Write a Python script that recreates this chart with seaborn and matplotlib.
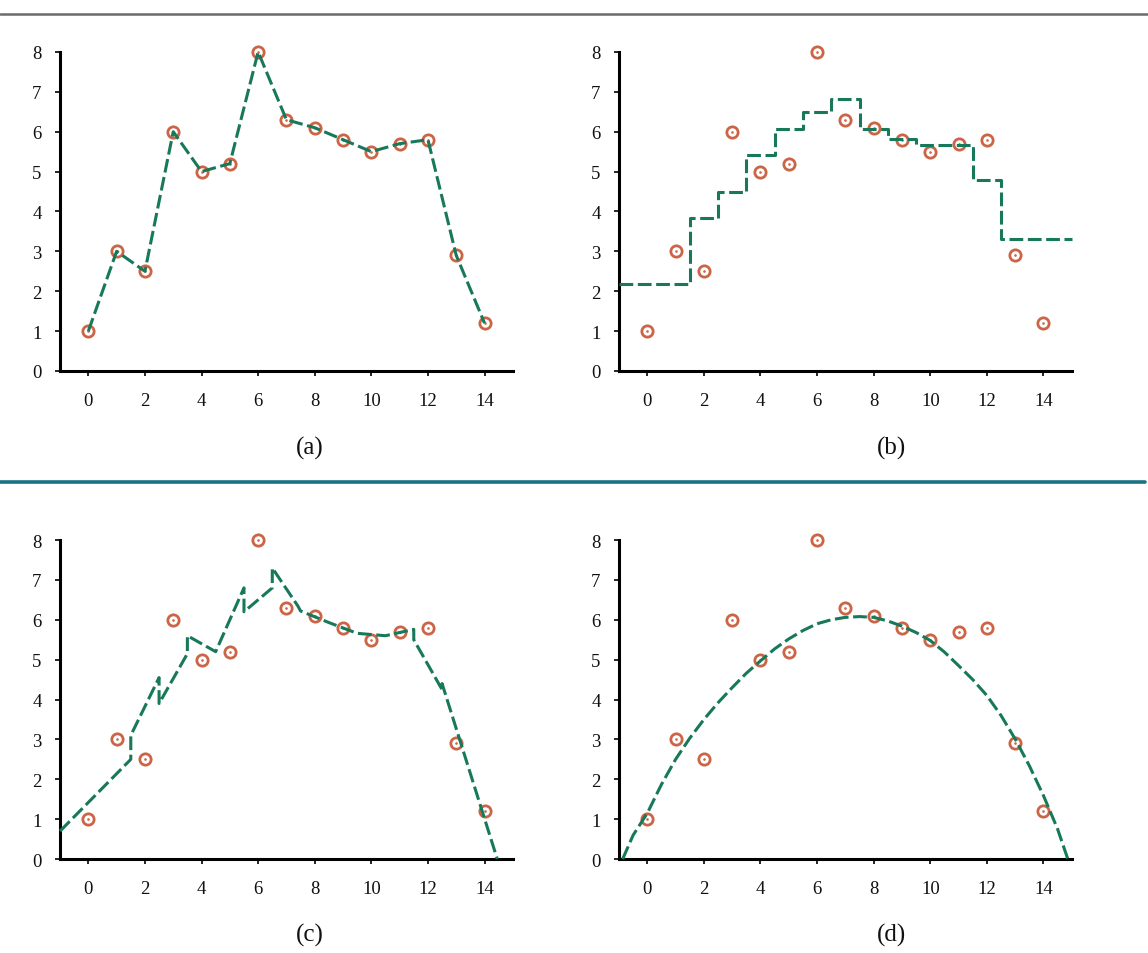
import matplotlib
matplotlib.use("Agg")
import matplotlib.pyplot as plt
from matplotlib.lines import Line2D
import seaborn as sns

# observed points (same in all four panels)
pts_x = [0, 1, 2, 3, 4, 5, 6, 7, 8, 9, 10, 11, 12, 13, 14]
pts_y = [1, 3, 2.5, 6, 5, 5.2, 8, 6.3, 6.1, 5.8, 5.5, 5.7, 5.8, 2.9, 1.2]

# (b) piecewise constant fit
step_edges = [-1, 1.5, 2.5, 3.5, 4.5, 5.5, 6.5, 7.5, 8.5, 9.5, 11.5, 12.5, 15]
step_levels = [2.17, 3.83, 4.5, 5.42, 6.07, 6.5, 6.82, 6.07, 5.82, 5.67, 4.8, 3.31]

# (c) piecewise linear fit (repeated x = jump)
pw_x = [-1, 1.5, 1.5, 2.5, 2.5, 3.5, 3.5, 4.5, 5.5, 5.5, 6.5, 6.5, 7.4, 7.5,
        8.5, 9.5, 10.5, 11.5, 11.5, 12.5, 12.5, 14.45]
pw_y = [0.7, 2.5, 3.1, 4.55, 3.9, 5.15, 5.6, 5.2, 6.8, 6.2, 6.8, 7.3, 6.35, 6.22,
        5.93, 5.66, 5.6, 5.76, 5.5, 4.25, 4.4, 0.0]

# (d) smooth fit
smooth_x = [-0.87, -0.5, 0, 0.5, 1, 1.5, 2, 2.5, 3, 3.5, 4, 4.5, 5, 5.5, 6, 6.5,
            7, 7.5, 8, 8.5, 9, 9.5, 10, 10.5, 11, 11.5, 12, 12.5, 13, 13.5, 14,
            14.5, 14.86]
smooth_y = [0, 0.6, 1.15, 1.87, 2.5, 3.03, 3.5, 3.92, 4.3, 4.66, 4.97, 5.27,
            5.52, 5.73, 5.9, 6.0, 6.06, 6.08, 6.06, 5.97, 5.84, 5.68, 5.48,
            5.19, 4.85, 4.5, 4.1, 3.6, 3.01, 2.34, 1.59, 0.75, 0.0]

x_ticks = [0, 2, 4, 6, 8, 10, 12, 14]
y_ticks = [0, 1, 2, 3, 4, 5, 6, 7, 8]
panel_labels = ['(a)', '(b)', '(c)', '(d)']

line_color = '#17785a'
pt_color = '#cc6446'

sns.set_style('ticks')
plt.rcParams['font.family'] = ['Liberation Serif', 'DejaVu Serif']

fig = plt.figure(figsize=(11.48, 9.54), dpi=100)

axes_pos = [
    [0.0523, 0.6101, 0.3944, 0.3344],
    [0.5392, 0.6101, 0.3944, 0.3344],
    [0.0523, 0.0985, 0.3944, 0.3344],
    [0.5392, 0.0985, 0.3944, 0.3344],
]
label_pos = [(0.270, 0.530), (0.777, 0.530), (0.270, 0.019), (0.777, 0.019)]

line_kw = dict(color=line_color, linewidth=2.2, linestyle=(0, (4.5, 1.5)),
               clip_on=False, zorder=4)

axs = []
for i, pos in enumerate(axes_pos):
    ax = fig.add_axes(pos)
    axs.append(ax)
    sns.scatterplot(x=pts_x, y=pts_y, ax=ax, marker='o', s=66, color='white',
                    edgecolor=pt_color, linewidth=2.0, clip_on=False, zorder=3)
    sns.scatterplot(x=pts_x, y=pts_y, ax=ax, marker='o', s=3.5, color=pt_color,
                    edgecolor=pt_color, linewidth=0, clip_on=False, zorder=3)

sns.lineplot(x=pts_x, y=pts_y, ax=axs[0], sort=False, estimator=None, **line_kw)
sns.lineplot(x=step_edges, y=step_levels + [step_levels[-1]], ax=axs[1],
             sort=False, estimator=None, drawstyle='steps-post', **line_kw)
sns.lineplot(x=pw_x, y=pw_y, ax=axs[2], sort=False, estimator=None, **line_kw)
sns.lineplot(x=smooth_x, y=smooth_y, ax=axs[3], sort=False, estimator=None, **line_kw)

for i, ax in enumerate(axs):
    ax.set_xlim(-1, 15)
    ax.set_ylim(0, 8)
    ax.set_xticks(x_ticks)
    ax.set_yticks(y_ticks)
    sns.despine(ax=ax)
    for side in ['left', 'bottom']:
        ax.spines[side].set_linewidth(2.2)
        ax.spines[side].set_color('black')
    ax.tick_params(axis='both', direction='out', length=3.3, width=1.2,
                   color='black', labelsize=13.5, labelcolor='#111111')
    ax.tick_params(axis='y', pad=10)
    ax.tick_params(axis='x', pad=12)
    ax.set_xlabel('')
    ax.set_ylabel('')
    fig.text(label_pos[i][0], label_pos[i][1], panel_labels[i], ha='center',
             va='center', fontsize=18, color='#111111')

# rules across the figure
fig.add_artist(Line2D([0, 1], [0.9838, 0.9838], transform=fig.transFigure,
                      color='#6a6a6a', linewidth=1.8))
fig.add_artist(Line2D([0, 0.9974], [0.4932, 0.4932], transform=fig.transFigure,
                      color='#1a7383', linewidth=2.6))

fig.savefig('out.png', dpi=100, facecolor='white')
